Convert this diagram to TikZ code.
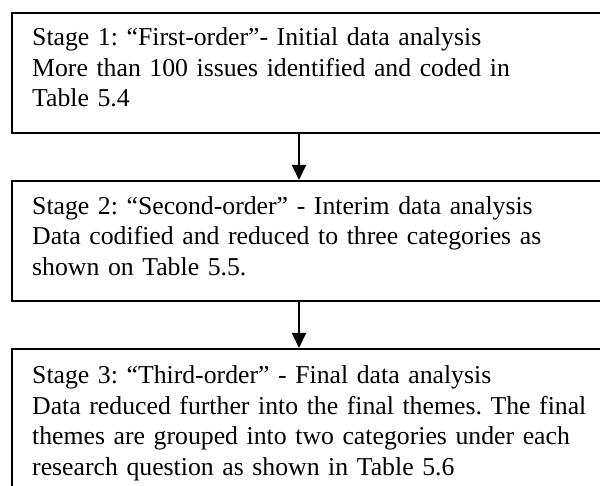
\documentclass[tikz,border=0pt]{standalone}
\usepackage{fontspec}
\setmainfont{Liberation Serif}
\usetikzlibrary{arrows.meta}
\frenchspacing
\begin{document}
\begin{tikzpicture}[x=1pt,y=-1pt,
  stagebox/.style={draw=black, line width=1.8pt, rectangle, anchor=north west,
    minimum width=620pt, inner sep=0pt},
  stagetext/.style={anchor=base west, inner sep=0pt, align=left, text width=600pt,
    font=\fontsize{25.75}{30.5}\selectfont\frenchspacing},
  flow/.style={line width=1.8pt, -{Triangle[length=15pt,width=14pt]}}]
\path[use as bounding box, clip] (0,0) rectangle (600,486);
\node[stagebox, minimum height=120pt] (b1) at (11,12) {};
\node[stagebox, minimum height=120pt] (b2) at (11,180) {};
\node[stagebox, minimum height=170pt] (b3) at (11,348) {};
\node[stagetext] (t1) at (32,46) {Stage 1: “First-order”- Initial data analysis\\More than 100 issues identified and coded in\\Table 5.4};
\node[stagetext] (t2) at (32,214.5) {Stage 2: “Second-order” - Interim data analysis\\Data codified and reduced to three categories as\\shown on Table 5.5.};
\node[stagetext] (t3) at (32,384) {Stage 3: “Third-order” - Final data analysis\\Data reduced further into the final themes. The final\\themes are grouped into two categories under each\\research question as shown in Table 5.6};
\coordinate (ax) at (299,0);
\draw[flow] (b1.south -| ax) -- (b2.north -| ax);
\draw[flow] (b2.south -| ax) -- (b3.north -| ax);
\end{tikzpicture}
\end{document}
